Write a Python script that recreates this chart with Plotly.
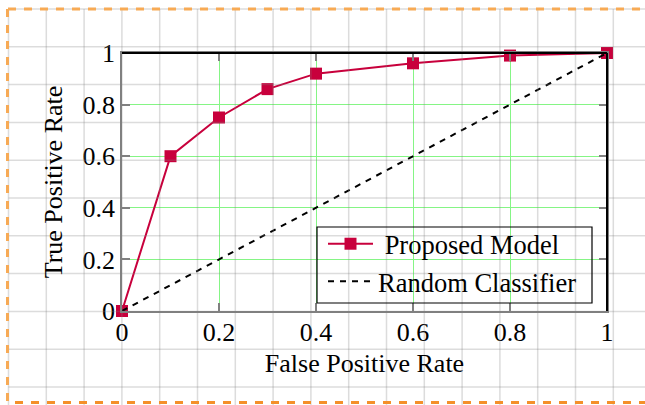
import plotly.graph_objects as go

# ---- data ----
fpr = [0.0, 0.1, 0.2, 0.3, 0.4, 0.6, 0.8, 1.0]
tpr = [0.0, 0.6, 0.75, 0.86, 0.92, 0.96, 0.99, 1.0]
rand_x = [0.0, 1.0]
rand_y = [0.0, 1.0]
tick_vals = [0, 0.2, 0.4, 0.6, 0.8, 1]
tick_text = ["0", "0.2", "0.4", "0.6", "0.8", "1"]
series_names = ["Proposed Model", "Random Classifier"]
x_title = "False Positive Rate"
y_title = "True Positive Rate"

# ---- layout geometry ----
W, H = 645, 405
L, R, T, B = 122, 38, 53, 94
PW = W - L - R
PH = H - T - B

def fx(px):
    return (px - L) / PW

def fy(py):
    return (H - B - py) / PH

FONT = "Liberation Serif"
RED = "#c8003c"

fig = go.Figure()
fig.add_trace(go.Scatter(
    x=fpr, y=tpr, mode="lines+markers", name="\u00a0" + series_names[0],
    line=dict(color=RED, width=2),
    marker=dict(symbol="square", size=12, color=RED, line=dict(width=0)),
    cliponaxis=False,
))
fig.add_trace(go.Scatter(
    x=rand_x, y=rand_y, mode="lines", name=series_names[1],
    line=dict(color="black", width=2, dash="6px,6px"),
    cliponaxis=False,
))

shapes = []
# background cm grid (semi-transparent, drawn over everything)
step = 37.8
gx0, gy0 = 8.5, 9.0
k = 0
while gx0 + k * step < W:
    px = gx0 + k * step
    shapes.append(dict(type="line", xref="paper", yref="paper",
                       x0=fx(px), x1=fx(px), y0=fy(gy0), y1=fy(H),
                       line=dict(color="rgba(128,128,128,0.28)", width=1.5),
                       layer="above"))
    k += 1
k = 0
while gy0 + k * step < H:
    py = gy0 + k * step
    shapes.append(dict(type="line", xref="paper", yref="paper",
                       x0=fx(gx0), x1=fx(W), y0=fy(py), y1=fy(py),
                       line=dict(color="rgba(128,128,128,0.28)", width=1.5),
                       layer="above"))
    k += 1

# black top and right frame
shapes.append(dict(type="line", xref="paper", yref="paper", x0=0, x1=1, y0=1, y1=1,
                   line=dict(color="black", width=2), layer="above"))
shapes.append(dict(type="line", xref="paper", yref="paper", x0=1, x1=1, y0=0, y1=1,
                   line=dict(color="black", width=2), layer="above"))

# legend frame
shapes.append(dict(type="rect", xref="paper", yref="paper",
                   x0=fx(317), x1=fx(592), y0=fy(303), y1=fy(227),
                   line=dict(color="black", width=1.2), fillcolor="rgba(0,0,0,0)",
                   layer="above"))

# orange dashed border (top, left, bottom)
shapes.append(dict(type="line", xref="paper", yref="paper",
                   x0=fx(8), x1=fx(W), y0=fy(9), y1=fy(9),
                   line=dict(color="#f7aa55", width=3, dash="8px,8px"), layer="above"))
shapes.append(dict(type="line", xref="paper", yref="paper",
                   x0=fx(7.5), x1=fx(7.5), y0=fy(9), y1=fy(402),
                   line=dict(color="#f7aa55", width=3, dash="8px,8px"), layer="above"))
shapes.append(dict(type="line", xref="paper", yref="paper",
                   x0=fx(15), x1=fx(W), y0=fy(402.5), y1=fy(402.5),
                   line=dict(color="#f4902a", width=3, dash="8px,8px"), layer="above"))

axis_common = dict(
    range=[0, 1], tickvals=tick_vals, ticktext=tick_text,
    showgrid=True, gridcolor="#85f585", gridwidth=1,
    zeroline=False, showline=True, linecolor="#808080", linewidth=1.5,
    mirror="ticks", ticks="inside", ticklen=8, tickwidth=1.5, tickcolor="#808080",
    tickfont=dict(family=FONT, size=26, color="black"),
    fixedrange=True, automargin=False,
)

fig.update_layout(
    width=W, height=H,
    margin=dict(l=L, r=R, t=T, b=B, autoexpand=False),
    paper_bgcolor="white", plot_bgcolor="rgba(0,0,0,0)",
    font=dict(family=FONT, size=26, color="black"),
    xaxis=dict(**axis_common, ticklabelstandoff=-3,
               title=dict(text=x_title, font=dict(family=FONT, size=26), standoff=8)),
    yaxis=dict(**axis_common,
               title=dict(text=y_title, font=dict(family=FONT, size=26), standoff=12)),
    legend=dict(x=fx(323), y=fy(220), xanchor="left", yanchor="top",
                bgcolor="rgba(0,0,0,0)", borderwidth=0,
                font=dict(family=FONT, size=26.5, color="black"),
                tracegroupgap=0, itemwidth=45),
    shapes=shapes,
    showlegend=True,
)

fig.write_html("out.html", config={"displayModeBar": False},
               post_script="document.body.style.margin='0';document.body.style.overflow='hidden';")
